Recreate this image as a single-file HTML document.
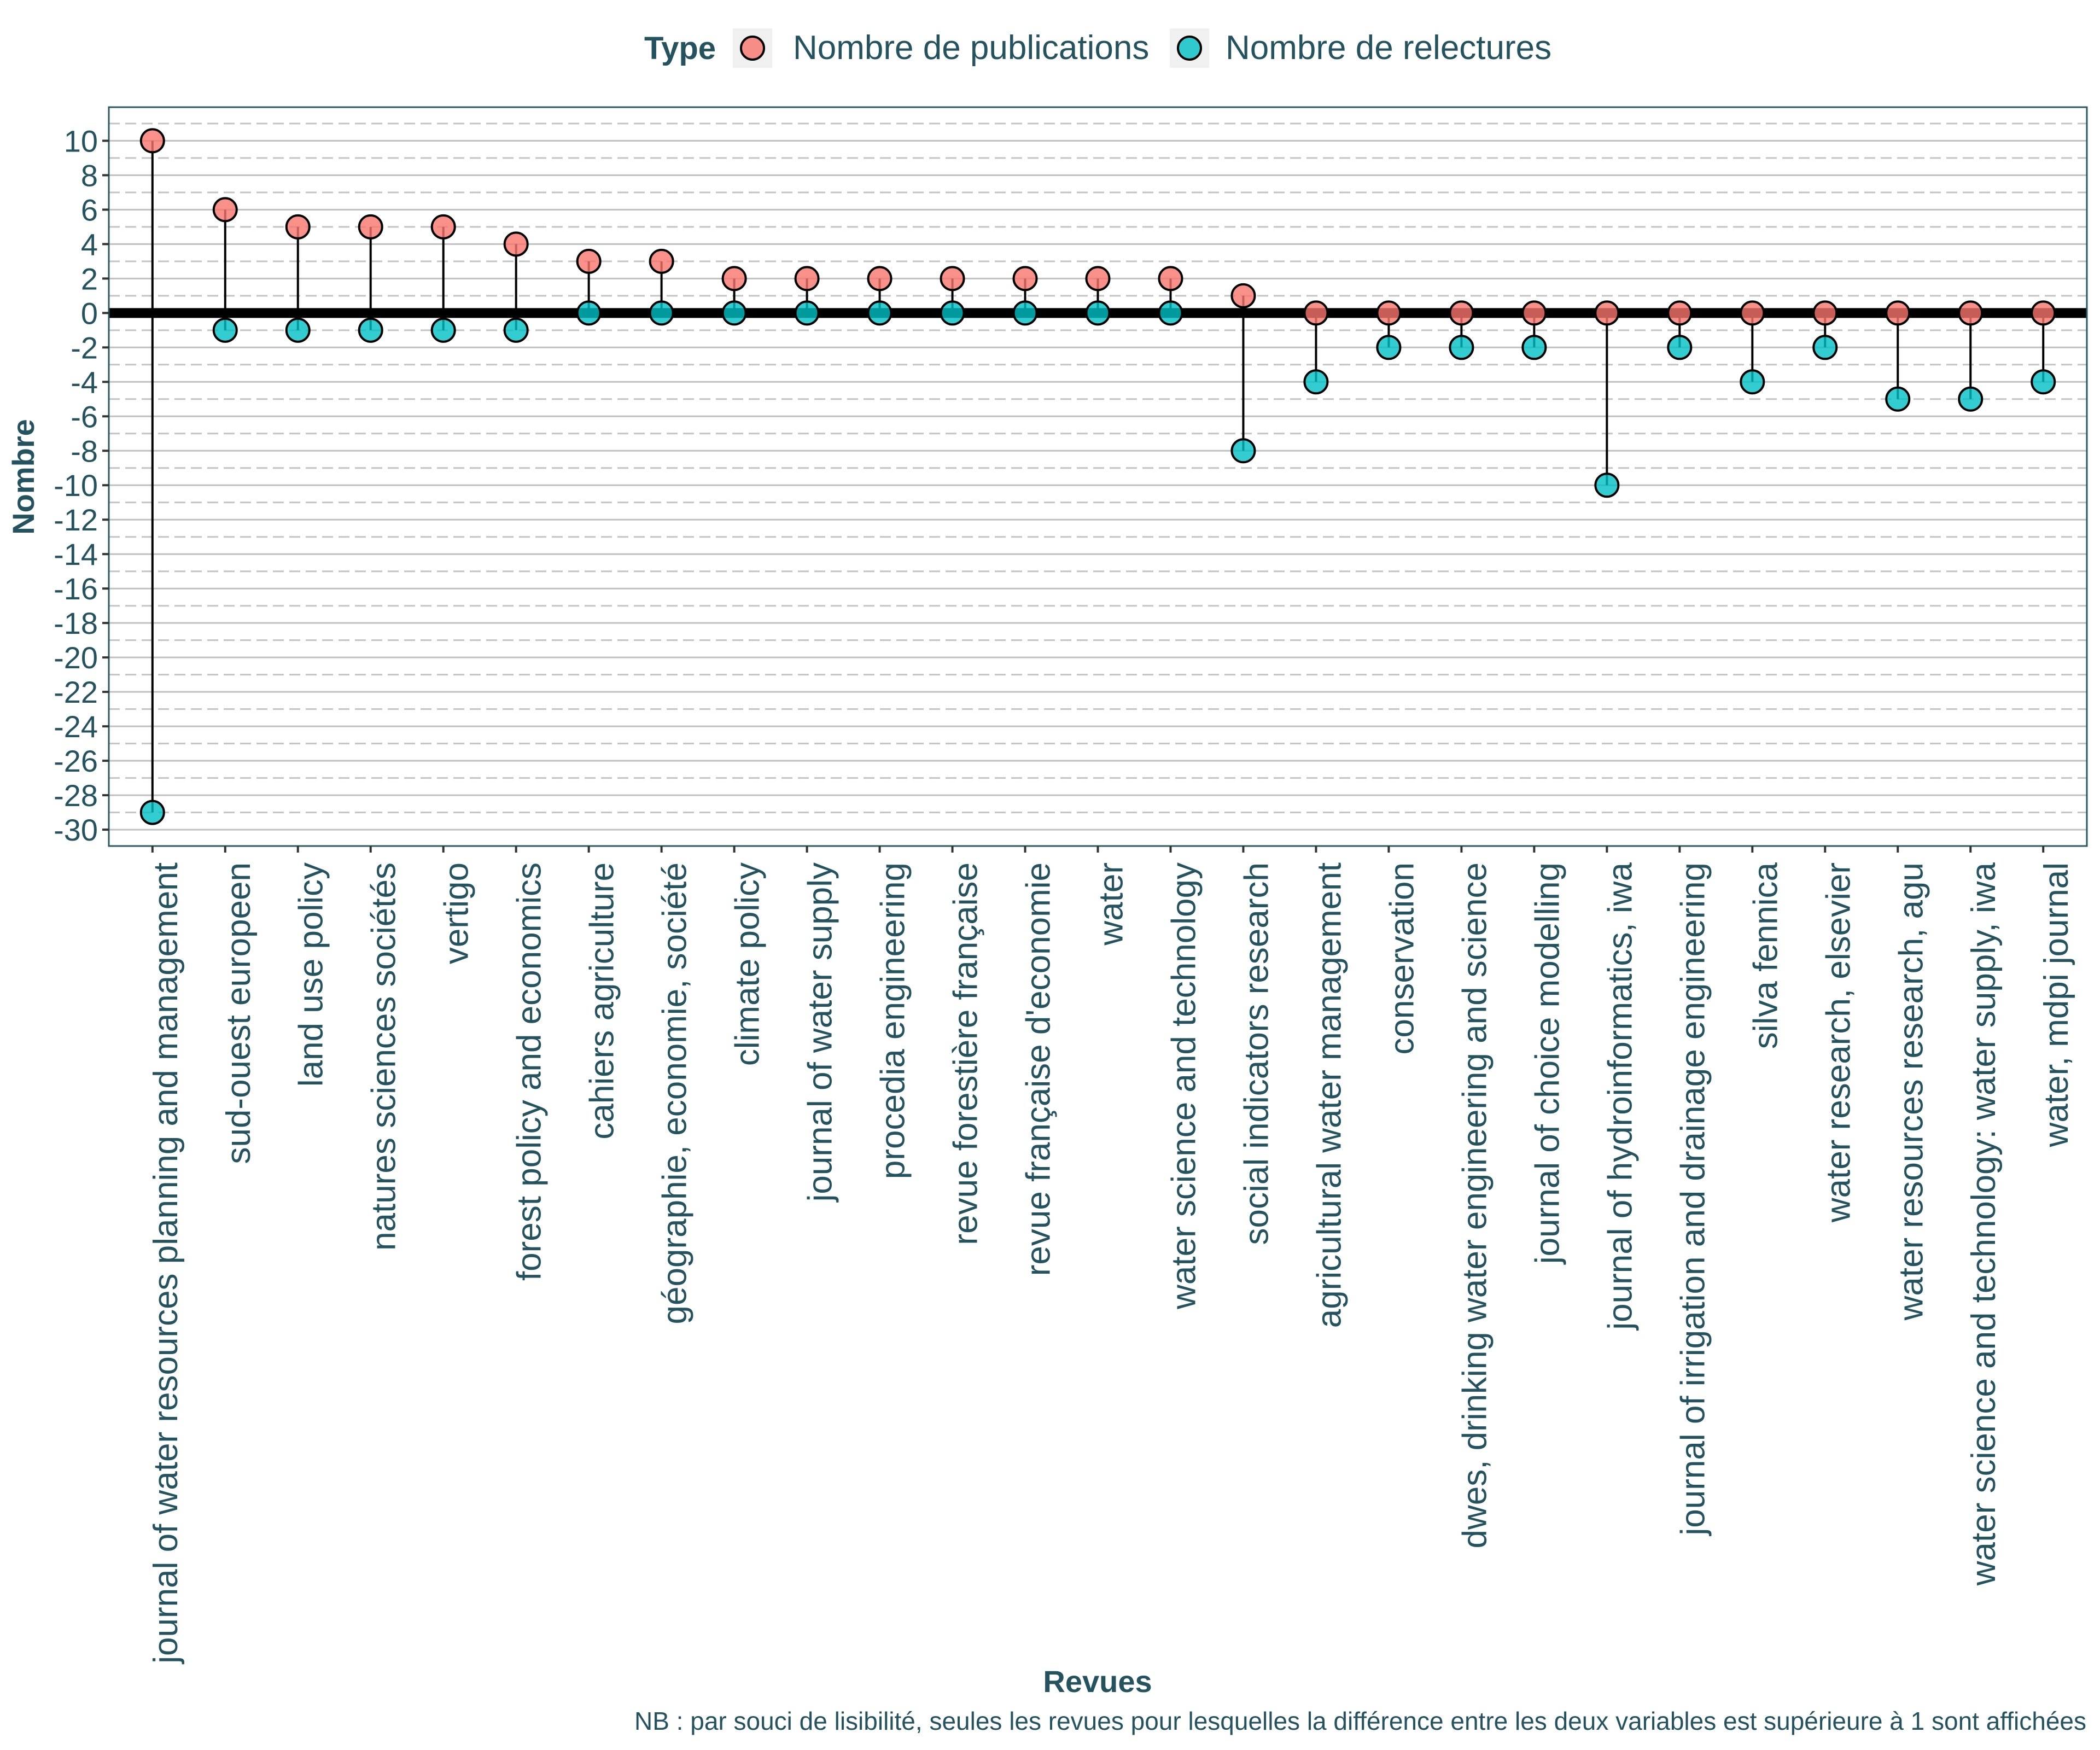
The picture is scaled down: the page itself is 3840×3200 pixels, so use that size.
<!DOCTYPE html>
<html><head><meta charset="utf-8"><style>
html,body{margin:0;padding:0;background:#fff;}
svg{display:block;font-family:"Liberation Sans",sans-serif;}
</style></head><body>
<svg id="chart" width="3840" height="3200" viewBox="0 0 3840 3200" xmlns="http://www.w3.org/2000/svg">
<rect x="0" y="0" width="3840" height="3200" fill="#fff"/>
<g id="grid"></g>
<g id="segs"></g>
<g id="zero"></g>
<g id="pts"></g>
<g id="axes"></g>
<g>
  <text x="1178" y="108" font-size="58" font-weight="bold" fill="#24525f">Type</text>
  <g>
    <rect x="1340" y="52" width="72" height="72" fill="#f0f0f0"/>
    <circle cx="1376" cy="88" r="21" fill="#F8766D" fill-opacity="0.8" stroke="#000" stroke-width="4"/>
    <text x="1450" y="108" font-size="62" fill="#24525f">Nombre de publications</text>
  </g>
  <g>
    <rect x="2139" y="52" width="72" height="72" fill="#f0f0f0"/>
    <circle cx="2175" cy="88" r="21" fill="#00BFC4" fill-opacity="0.8" stroke="#000" stroke-width="4"/>
    <text x="2241" y="108" font-size="62" fill="#24525f">Nombre de relectures</text>
  </g>
</g>
<text transform="translate(62,872) rotate(-90)" text-anchor="middle" font-size="56" font-weight="bold" fill="#24525f">Nombre</text>
<text x="2007" y="3094" text-anchor="middle" font-size="56" font-weight="bold" fill="#24525f">Revues</text>
<text x="3815" y="3163" text-anchor="end" font-size="46" fill="#24525f">NB : par souci de lisibilité, seules les revues pour lesquelles la différence entre les deux variables est supérieure à 1 sont affichées</text>
</svg>
<script>
const categories = ["journal of water resources planning and management","sud-ouest europeen","land use policy","natures sciences sociétés","vertigo","forest policy and economics","cahiers agriculture","géographie, economie, société","climate policy","journal of water supply","procedia engineering","revue forestière française","revue française d'economie","water","water science and technology","social indicators research","agricultural water management","conservation","dwes, drinking water engineering and science","journal of choice modelling","journal of hydroinformatics, iwa","journal of irrigation and drainage engineering","silva fennica","water research, elsevier","water resources research, agu","water science and technology: water supply, iwa","water, mdpi journal"];
const publications = [10,6,5,5,5,4,3,3,2,2,2,2,2,2,2,1,0,0,0,0,0,0,0,0,0,0,0];
const relectures = [-29,-1,-1,-1,-1,-1,0,0,0,0,0,0,0,0,0,-8,-4,-2,-2,-2,-10,-2,-4,-2,-5,-5,-4];
const yTicks = [10,8,6,4,2,0,-2,-4,-6,-8,-10,-12,-14,-16,-18,-20,-22,-24,-26,-28,-30];
const yMinor = [11,9,7,5,3,1,-1,-3,-5,-7,-9,-11,-13,-15,-17,-19,-21,-23,-25,-27,-29];

const NS="http://www.w3.org/2000/svg";
const L=199,R=3816,T=196,B=1547;
const yMin=-30.95,yMax=11.95;
const n=categories.length;
const band=(R-L)/(n-1+1.2);
function xs(i){return L+band*(0.6+i);}
function ys(v){return T+(yMax-v)/(yMax-yMin)*(B-T);}
function mk(tag,attrs,parent){const e=document.createElementNS(NS,tag);for(const k in attrs)e.setAttribute(k,attrs[k]);parent.appendChild(e);return e;}

const grid=document.getElementById('grid');
yMinor.forEach(v=>{
  const l=mk('line',{x1:L,x2:R,y1:ys(v),y2:ys(v),stroke:'#c4c4c4','stroke-width':3,'stroke-dasharray':'20 10'},grid);
  
  
});
yTicks.forEach(v=>{
  const l=mk('line',{x1:L,x2:R,y1:ys(v),y2:ys(v),stroke:'#c0c0c0','stroke-width':3},grid);
  
  
});

const segs=document.getElementById('segs');
categories.forEach((c,i)=>{
  const s=mk('line',{x1:xs(i),x2:xs(i),y1:ys(publications[i]),y2:ys(relectures[i]),stroke:'#000','stroke-width':4},segs);
  
  
});
const zl=mk('line',{x1:L,x2:R,y1:ys(0),y2:ys(0),stroke:'#000','stroke-width':18},document.getElementById('zero'));



const pts=document.getElementById('pts');
categories.forEach((c,i)=>{
  const p=mk('circle',{cx:xs(i),cy:ys(publications[i]),r:21,fill:'#F8766D','fill-opacity':0.8,stroke:'#000','stroke-width':4},pts);
  
  
  const q=mk('circle',{cx:xs(i),cy:ys(relectures[i]),r:21,fill:'#00BFC4','fill-opacity':0.8,stroke:'#000','stroke-width':4},pts);
  
  
});

const axes=document.getElementById('axes');
const border=mk('rect',{x:L,y:T,width:R-L,height:B-T,fill:'none',stroke:'#2b5a66','stroke-width':3},axes);


yTicks.forEach(v=>{
  const t=mk('line',{x1:L-12,x2:L,y1:ys(v),y2:ys(v),stroke:'#333','stroke-width':4},axes);
  
  
  const tx=mk('text',{x:L-20,y:ys(v)+20,'text-anchor':'end','font-size':56,fill:'#24525f'},axes);
  tx.textContent=String(v);
  
  
});
categories.forEach((c,i)=>{
  const t=mk('line',{x1:xs(i),x2:xs(i),y1:B,y2:B+12,stroke:'#333','stroke-width':4},axes);
  
  
  const x=xs(i)+45,y=B+30;
  const tx=mk('text',{transform:'translate('+x+','+y+') rotate(-90)','text-anchor':'end','font-size':62,fill:'#24525f'},axes);
  tx.textContent=c;
  
  
});
</script>
</body></html>
